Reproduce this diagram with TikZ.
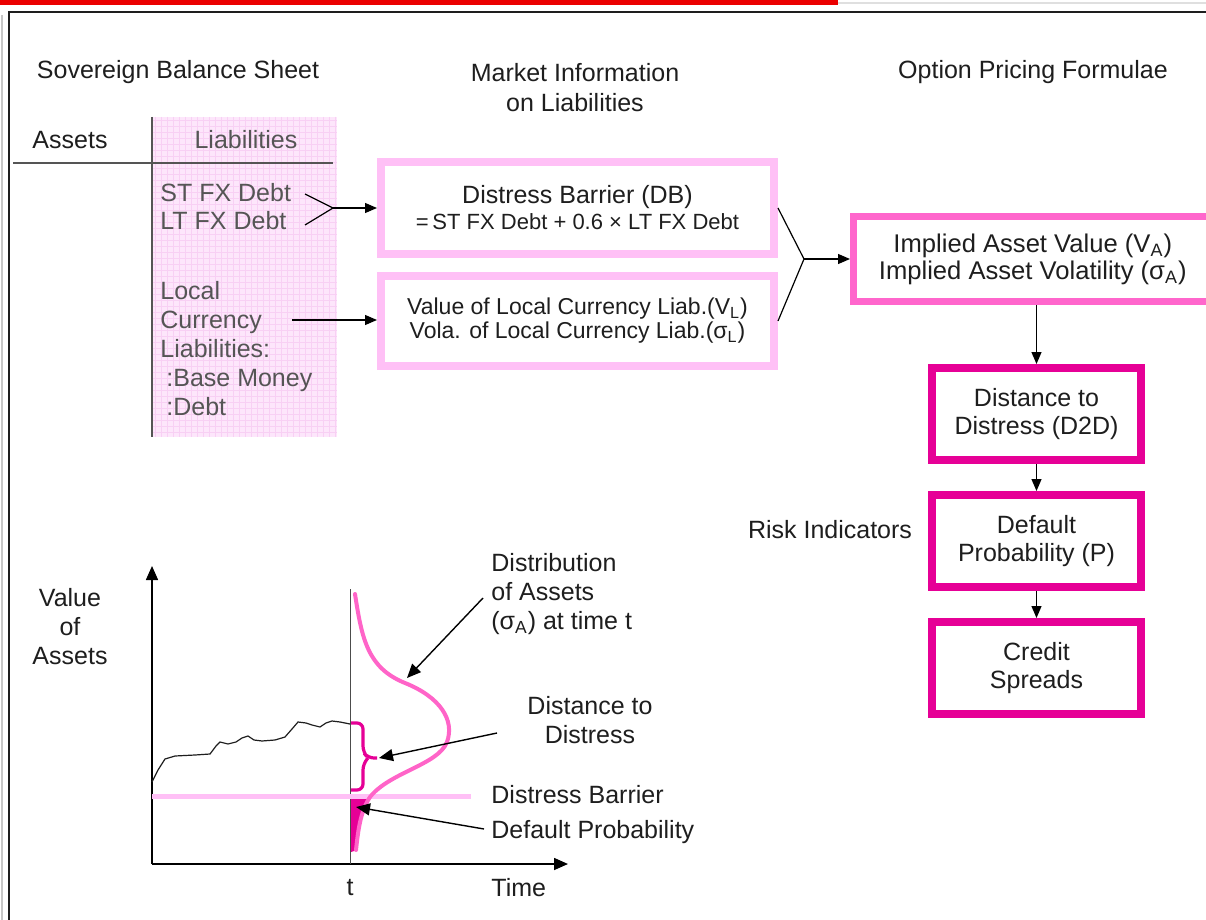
\documentclass[tikz,border=0pt]{standalone}
\usepackage{fontspec}
\setmainfont{Liberation Sans}
\usetikzlibrary{arrows.meta}
\definecolor{lpink}{RGB}{255,192,246}
\definecolor{mpink}{RGB}{255,102,204}
\definecolor{mag}{RGB}{230,0,150}
\definecolor{curvec}{RGB}{255,100,200}
\definecolor{bgpink}{RGB}{253,230,251}
\definecolor{gridpink}{RGB}{248,208,244}
\definecolor{txtc}{RGB}{30,30,30}
\definecolor{txtg}{RGB}{85,85,85}
\definecolor{redbar}{RGB}{235,0,0}
\begin{document}
\begin{tikzpicture}[x=0.5pt,y=-0.5pt,
  lbl/.style={font=\fontsize{12.5}{14.5}\selectfont, text=txtc, inner sep=0pt, align=center},
  lboxs/.style={draw=lpink, line width=4pt, fill=white, minimum width=196.5pt, minimum height=46pt, inner sep=0pt, align=center, text=txtc},
  mbox/.style={draw=mag, line width=4pt, fill=white, minimum width=104.5pt, minimum height=46pt, inner sep=0pt, align=center, text=txtc, font=\fontsize{12.5}{14}\selectfont},
  arr/.style={-{Triangle[length=6pt,width=5pt]}, line width=0.6pt, draw=black},
  bigarr/.style={-{Triangle[length=7pt,width=6pt]}, line width=0.8pt, draw=black},
]
\useasboundingbox (0,0) rectangle (1206,920);
\fill[white] (0,0) rectangle (1206,920);
% top bar and frame
\fill[redbar] (0,0) rectangle (838,5);
\fill[gray!25] (838,2) rectangle (1206,4);
\fill[gray!45] (1,15) rectangle (3,920);
\fill[txtc] (8,12) rectangle (10,920);
\fill[txtc] (8,11) rectangle (1206,13.4);

% headers
\node[lbl] (hsbs) at (178,72) {Sovereign Balance Sheet};
\node[lbl, font=\fontsize{12.5}{15}\selectfont] (hmi) at (575,88) {Market Information\\on Liabilities};
\node[lbl] (hopf) at (1033,72) {Option Pricing Formulae};

% balance sheet
\fill[bgpink] (152,117) rectangle (337,437);
\foreach \gx in {155,161,...,335} \draw[gridpink, line width=0.3pt] (\gx,117) -- (\gx,437);
\foreach \gy in {120,126,...,436} \draw[gridpink, line width=0.3pt] (152,\gy) -- (337,\gy);
\draw[line width=0.9pt, txtg] (152,117) -- (152,437);
\draw[line width=0.7pt, txtg] (13,163) -- (333,163);
\node[lbl] (assets) at (70,140) {Assets};
\node[lbl, text=txtg] (liab) at (246,140) {Liabilities};
\node[lbl, text=txtg, anchor=west] (st) at (160,193) {ST FX Debt};
\node[lbl, text=txtg, anchor=west] (lt) at (160,221) {LT FX Debt};
\node[lbl, text=txtg, anchor=north west, align=left] (lcl) at (160,281) {Local\\Currency\\Liabilities:\\\hspace{3pt}:Base Money\\\hspace{3pt}:Debt};

% market information boxes
\node[lboxs] (db) at (577.5,208) {{\fontsize{12.5}{15}\selectfont Distress Barrier (DB)}\\[1pt]{\fontsize{11}{13}\selectfont =\,ST FX Debt + 0.6 × LT FX Debt}};
\node[lboxs, minimum height=45pt] (vl) at (577.5,321) {\fontsize{11.5}{13.5}\selectfont Value of Local Currency Liab.(V\textsubscript{L})\\\fontsize{11.5}{13.5}\selectfont Vola. of Local Currency Liab.(σ\textsubscript{L})};

% connectors from balance sheet
\coordinate (b1) at (305,194);
\coordinate (b2) at (305,225);
\coordinate (bj) at (333,208);
\coordinate (lcs) at (292,320);
\draw[line width=0.6pt] (b1) -- (bj) -- (b2);
\draw[arr] (bj) -- (db.west |- bj);
\draw[arr] (lcs) -- (vl.west |- lcs);

% option pricing
\node[draw=mpink, line width=3.5pt, fill=white, minimum width=179.25pt, minimum height=42.5pt, inner sep=0pt, align=center, text=txtc, font=\fontsize{12.8}{13.5}\selectfont] (va) at (1032.75,259) {Implied Asset Value (V\textsubscript{A})\\Implied Asset Volatility (σ\textsubscript{A})};
\coordinate (cj) at (804,259);
\draw[line width=0.6pt] (db.east) -- (cj) -- (vl.east);
\draw[arr] (cj) -- (va.west);

\node[mbox] (d2d) at (1036.5,414) {Distance to\\Distress (D2D)};
\node[mbox] (dp) at (1036.5,541) {Default\\Probability (P)};
\node[mbox] (cs) at (1036.5,668) {Credit\\Spreads};
\draw[arr] (va.south -| d2d.north) -- (d2d.north);
\draw[arr] (d2d.south) -- (dp.north);
\draw[arr] (dp.south) -- (cs.north);
\node[lbl] (ri) at (830,530) {Risk Indicators};

% chart
\coordinate (o) at (152,864);
\coordinate (ytip) at (152,566);
\coordinate (xtip) at (568,864);
\draw[bigarr] (o) -- (ytip);
\draw[bigarr] (o) -- (xtip);
\draw[line width=0.5pt, gray!60!black] (350,589) -- (350,864);
\draw[lpink, line width=2.5pt] (152,796) -- (471,796);
% asset path
\draw[line width=0.6pt, txtc] plot coordinates {(152,782) (158,770) (165,759) (175,756) (195,755) (210,754) (216,746) (220,742) (228,744) (236,742) (242,738) (248,736) (254,740) (262,741) (275,740) (285,737) (292,729) (298,722) (306,723) (312,725) (320,727) (326,723) (332,721) (340,722) (350,724)};
% default probability fill
\fill[mag] (351,799) -- (369,799) .. controls (362,812) and (359,830) .. (357,850) -- (351,852) -- cycle;
% density curve
\draw[curvec, line width=2pt, line cap=round] (355,594) .. controls (362,640) and (368,668) .. (405,683) .. controls (440,697) and (455,720) .. (447,742) .. controls (438,765) and (390,772) .. (370,797) .. controls (360,812) and (358,832) .. (356,850);
% brace
\draw[mag, line width=1.6pt, rounded corners=3pt] (351,723) -- (363,723) -- (363,752) -- (368,758) -- (377,758);
\draw[mag, line width=1.6pt, rounded corners=3pt] (368,758) -- (363,764) -- (363,790) -- (351,790);

% chart labels
\node[lbl] (voa) at (70,627) {Value\\of\\Assets};
\node[lbl, anchor=west, align=left] (dist) at (491,594) {Distribution\\of Assets\\(σ\textsubscript{A}) at time t};
\node[lbl] (dtd) at (590,720) {Distance to\\Distress};
\node[lbl, anchor=west] (dbl) at (491,795) {Distress Barrier};
\node[lbl, anchor=west] (dpl) at (491,832) {Default Probability};
\node[lbl] (tl) at (350,888) {t};
\node[lbl, anchor=west] (time) at (491,888) {Time};

\coordinate (a1s) at (483,598);
\coordinate (a1e) at (407,678);
\coordinate (a2s) at (497,733);
\coordinate (a2e) at (379,758);
\coordinate (a3s) at (484,829);
\coordinate (a3e) at (356,807);
\draw[bigarr, line width=0.7pt] (a1s) -- (a1e);
\draw[bigarr, line width=0.7pt] (a2s) -- (a2e);
\draw[bigarr, line width=0.7pt] (a3s) -- (a3e);
% cover for right edge
\fill[white] (1180,14) rectangle (1206,209);
\end{tikzpicture}
\end{document}
